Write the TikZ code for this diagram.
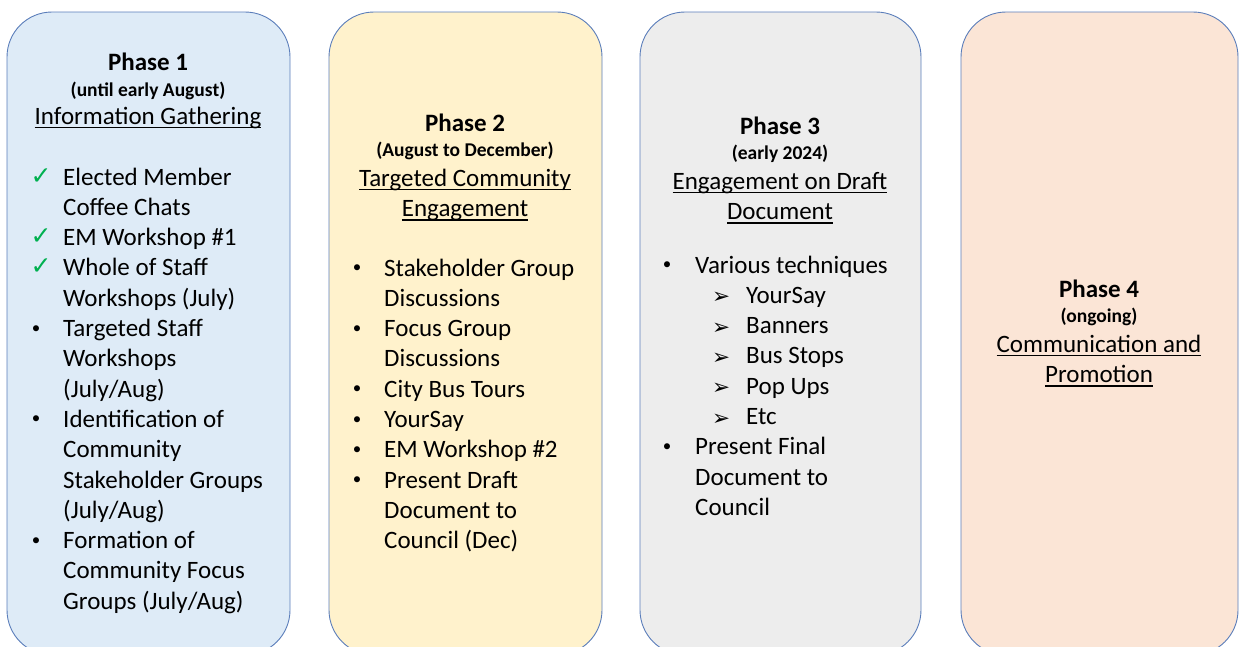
\documentclass[tikz,border=0pt]{standalone}
\usepackage{fontspec}
\setmainfont{Carlito}
\newfontfamily\symfont{DejaVu Sans}
% underline at a fixed depth, crossing the descenders
\newcommand\undl[1]{\setbox0\hbox{#1}\rlap{\rule[-4.2pt]{\wd0}{1.3pt}}\box0}
% stacked lines, baseline on the first one
\newcommand\leftlines[1]{\begin{tabular}[t]{@{}l@{}}#1\end{tabular}}
\newcommand\midlines[1]{\begin{tabular}[t]{@{}c@{}}#1\end{tabular}}

\definecolor{edgeblue}{HTML}{5A7DBA}
\definecolor{fillone}{HTML}{DEEBF7}
\definecolor{filltwo}{HTML}{FFF2CC}
\definecolor{fillthree}{HTML}{EDEDED}
\definecolor{fillfour}{HTML}{FBE5D6}
\definecolor{tickgreen}{HTML}{00B050}

\tikzset{
  phasebox/.style={draw=edgeblue, line width=0.9pt, rounded corners=45pt},
  phasehead/.style={anchor=base, inner sep=0pt, font=\bfseries\fontsize{25}{28}\selectfont},
  phasewhen/.style={anchor=base, inner sep=0pt, font=\bfseries\fontsize{19.5}{22}\selectfont},
  phasename/.style={anchor=base, inner sep=0pt, font=\fontsize{25}{30.3}\selectfont},
  entry/.style={anchor=base west, inner sep=0pt, font=\fontsize{25}{30.3}\selectfont},
  donesym/.style={anchor=base, inner sep=0pt, text=tickgreen, font=\symfont\fontsize{25}{28}\selectfont},
  dotsym/.style={anchor=base, inner sep=0pt, yshift=3.5pt, font=\fontsize{17}{20}\selectfont},
  subsym/.style={anchor=base, inner sep=0pt, yshift=-0.5pt, font=\symfont\fontsize{21.5}{24}\selectfont},
}

\begin{document}
\begin{tikzpicture}[x=1pt,y=-1pt]
  \useasboundingbox (0,0) rectangle (1239,646);
  \begin{scope}
    \clip (0,0) rectangle (1239,646);
    \draw[phasebox, fill=fillone]   (7,12)   rectangle (290,655);
    \draw[phasebox, fill=filltwo]   (329,12) rectangle (602,655);
    \draw[phasebox, fill=fillthree] (640,12) rectangle (921,655);
    \draw[phasebox, fill=fillfour]  (961,12) rectangle (1238,655);
  \end{scope}

  % phase 1
  \node[phasehead] (h1) at (148,70.5) {Phase 1};
  \node[phasewhen] (w1) at (148,96.5) {(until early August)};
  \node[phasename] (n1) at (148,124) {\undl{Information Gathering}};
  \node[donesym] (c1) at (41,184) {✓};
  \node[donesym] (c2) at (41,244.6) {✓};
  \node[donesym] (c3) at (41,274.9) {✓};
  \node[dotsym] (b1) at (36,336.5) {•};
  \node[dotsym] (b2) at (36,427.4) {•};
  \node[dotsym] (b3) at (36,548.6) {•};
  \node[entry] (e1) at (63,185) {\leftlines{Elected Member\\Coffee Chats}};
  \node[entry] (e2) at (63,245.6) {EM Workshop \#1};
  \node[entry] (e3) at (63,275.9) {\leftlines{Whole of Staff\\Workshops (July)}};
  \node[entry] (e4) at (63,336.5) {\leftlines{Targeted Staff\\Workshops\\(July/Aug)}};
  \node[entry] (e5) at (63,427.4) {\leftlines{Identification of\\Community\\Stakeholder Groups\\(July/Aug)}};
  \node[entry] (e6) at (63,548.6) {\leftlines{Formation of\\Community Focus\\Groups (July/Aug)}};

  % phase 2
  \node[phasehead] (h2) at (465,131) {Phase 2};
  \node[phasewhen] (w2) at (465,156.5) {(August to December)};
  \node[phasename] (n2) at (465,186) {\midlines{\undl{Targeted Community}\\\undl{Engagement}}};
  \foreach \y/\txt [count=\i] in {276/{Stakeholder Group\\Discussions},
      336.6/{Focus Group\\Discussions}, 397.2/{City Bus Tours},
      427.5/{YourSay}, 457.8/{EM Workshop \#2},
      488.1/{Present Draft\\Document to\\Council (Dec)}}
  {
    \node[dotsym] (d\i) at (357,\y) {•};
    \node[entry] (f\i) at (384,\y) {\leftlines{\txt}};
  }

  % phase 3
  \node[phasehead] (h3) at (780,134) {Phase 3};
  \node[phasewhen] (w3) at (780,159) {(early 2024)};
  \node[phasename] (n3) at (780,189) {\midlines{\undl{Engagement on Draft}\\\undl{Document}}};
  \node[dotsym] (g1) at (667,273) {•};
  \node[entry] (v1) at (695,273) {Various techniques};
  \foreach \y/\txt [count=\i] in {303.3/YourSay, 333.6/Banners,
      363.9/Bus Stops, 394.2/Pop Ups, 424.5/Etc}
  {
    \node[subsym] (s\i) at (721,\y) {➢};
    \node[entry] (t\i) at (746,\y) {\txt};
  }
  \node[dotsym] (g2) at (667,454.8) {•};
  \node[entry] (v2) at (695,454.8) {\leftlines{Present Final\\Document to\\Council}};

  % phase 4
  \node[phasehead] (h4) at (1099,297) {Phase 4};
  \node[phasewhen] (w4) at (1099,322) {(ongoing)};
  \node[phasename] (n4) at (1099,352) {\midlines{\undl{Communication and}\\\undl{Promotion}}};
\end{tikzpicture}
\end{document}
